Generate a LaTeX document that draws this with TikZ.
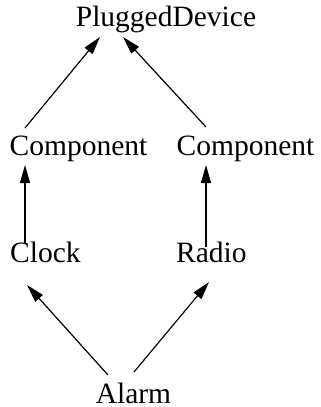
\documentclass[tikz,border=0pt]{standalone}
\usepackage{fontspec}
\setmainfont{Liberation Serif}
\usetikzlibrary{arrows.meta}
\begin{document}
\begin{tikzpicture}[x=1pt,y=-1pt,
  lbl/.style={inner sep=0pt,font=\fontsize{29.5}{31}\selectfont},
  edge/.style={line width=1.2pt,-{Triangle[length=18pt,width=10pt]}}]
\useasboundingbox (0,0) rectangle (321,407);
\node[lbl,anchor=base] (pd) at (166,26) {PluggedDevice};
\node[lbl,anchor=base] (c1) at (78.5,155) {Component};
\node[lbl,anchor=base] (c2) at (245.5,155) {Component};
\node[lbl,anchor=base west] (clock) at (10,262) {Clock};
\node[lbl,anchor=base west] (radio) at (176,262) {Radio};
\node[lbl,anchor=base] (alarm) at (133.5,403) {Alarm};
\draw[edge] ([shift={(-53.5,-27)}]c1.base) -- ([shift={(-66,11)}]pd.base);
\draw[edge] ([shift={(-39.5,-28)}]c2.base) -- ([shift={(-43,11)}]pd.base);
\draw[edge] ([shift={(15,-19)}]clock.base west) -- ([shift={(-53.5,10)}]c1.base);
\draw[edge] ([shift={(30,-15)}]radio.base west) -- ([shift={(-39.5,10)}]c2.base);
\draw[edge] ([shift={(-25.5,-28)}]alarm.base) -- ([shift={(17,23)}]clock.base west);
\draw[edge] ([shift={(0.5,-31)}]alarm.base) -- ([shift={(33,20)}]radio.base west);
\end{tikzpicture}
\end{document}
